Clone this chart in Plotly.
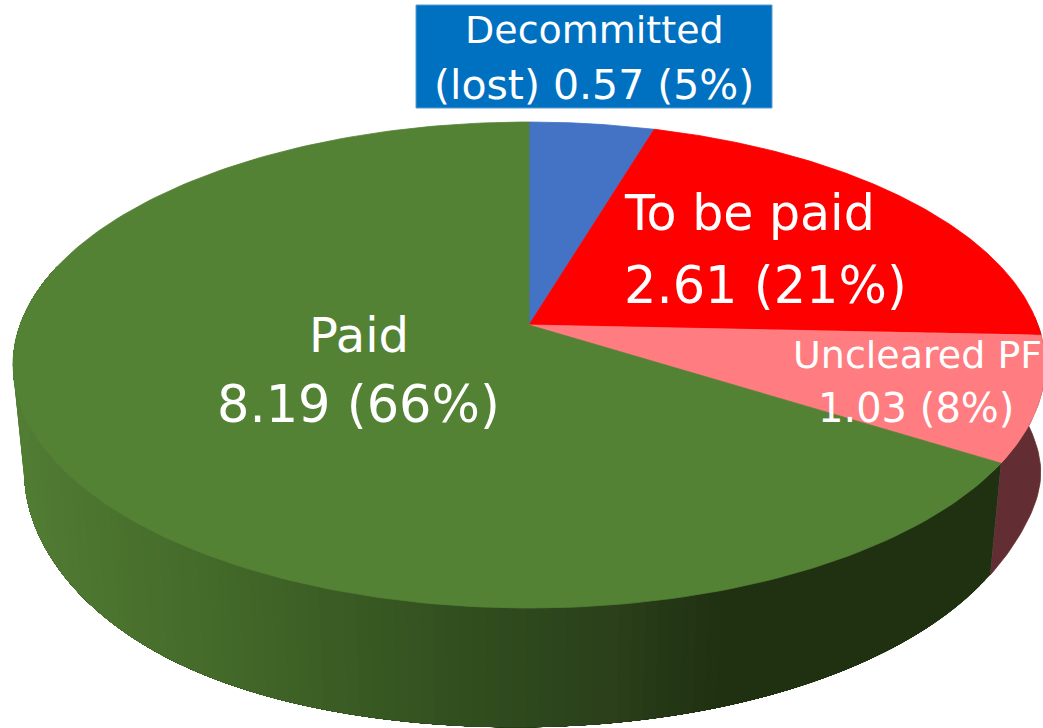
import numpy as np
import plotly.graph_objects as go

# ---- data ----
categories = ["Decommitted (lost)", "To be paid", "Uncleared PF", "Paid"]
values = [0.57, 2.61, 1.03, 8.19]
top_colors = ["#4472C4", "#FF0000", "#FF7C80", "#548235"]

# ---- perspective model of the disc (pixel space of the axes) ----
W, H = 1043, 728
APEX_X, APEX_Y = 529, 325
A, B, K = 509.0, 236.4, -0.1646
DEPTH_Y, DEPTH_W = 107.4, 0.0218


def project(theta, low=False):
    u, v = np.sin(theta), -np.cos(theta)
    w = 1 + K * v + (DEPTH_W if low else 0)
    x = APEX_X + A * u / w
    y = APEX_Y + (B * v + (DEPTH_Y if low else 0)) / w
    if low:  # the lower rim of the reference bulges a little beyond pure perspective
        deg = np.degrees(theta)
        x = x + 7 * np.exp(-((deg - 100) / 12) ** 2)
        y = y + 9 * np.exp(-((deg - 220) / 28) ** 2)
    return x, y


total = sum(values)
edges = np.concatenate([[0], np.cumsum(values)]) / total * 2 * np.pi

fig = go.Figure()


def add_poly(xs, ys, color, lw=0.8):
    fig.add_trace(go.Scatter(x=xs, y=ys, mode="lines", fill="toself", fillcolor=color,
                             line=dict(color=color, width=lw), hoverinfo="skip",
                             showlegend=False))


def paid_side_color(x):
    stops_x = [20, 130, 220, 330, 480, 620, 730, 1043]
    stops = np.array([[82, 125, 52], [74, 114, 46], [68, 106, 42], [60, 94, 37],
                      [49, 78, 31], [43, 64, 27], [32, 49, 18], [32, 49, 18]])
    rgb = [int(np.interp(x, stops_x, stops[:, i])) for i in range(3)]
    return "rgb(%d,%d,%d)" % tuple(rgb)


# side wall: uncleared slice
t = np.linspace(np.radians(88), edges[3], 40)
xt, yt = project(t)
xb, yb = project(t, low=True)
add_poly(np.r_[xt, xb[::-1]], np.r_[yt, yb[::-1]], "#632E33")

# side wall: paid slice, painted as overlapping shaded bands so no seams appear
END = np.radians(285)
band_edges = np.linspace(edges[3], END, 130)
for a0 in band_edges[:-1]:
    t = np.linspace(a0, END, 40)
    xt, yt = project(t)
    xb, yb = project(t, low=True)
    add_poly(np.r_[xt, xb[::-1]], np.r_[yt, yb[::-1]], paid_side_color(xt[0]), lw=0)

# top face: one wedge per slice, drawn from the values
for a0, a1, color in zip(edges[:-1], edges[1:], top_colors):
    t = np.linspace(a0, a1, 200)
    x, y = project(t)
    add_poly(np.r_[APEX_X, x, APEX_X], np.r_[APEX_Y, y, APEX_Y], color)

pct = [round(v / total * 100) for v in values]
FONT = "DejaVu Sans"
lines = [
    ("Decommitted", 594, 30, 38, "center"),
    (f"(lost) {values[0]:.2f} ({pct[0]}%)", 594, 85, 41, "center"),
    ("To be paid", 622, 213, 49, "left"),
    (f"{values[1]:.2f} ({pct[1]}%)", 622, 285, 51, "left"),
    ("Uncleared PF", 917, 355, 38, "center"),
    (f"{values[2]:.2f} ({pct[2]}%)", 916, 408, 40, "center"),
    ("Paid", 359, 335, 48, "center"),
    (f"{values[3]:.2f} ({pct[3]}%)", 358, 404, 51, "center"),
]

fig.add_shape(type="rect", x0=416, x1=772, y0=5, y1=108, xref="x", yref="y",
              fillcolor="#0070C0", line=dict(color="#5B9BD5", width=1), layer="above")

for text, x, y, size, align in lines:
    fig.add_annotation(x=x, y=y, xref="x", yref="y", text=text, showarrow=False,
                       xanchor=align, yanchor="middle",
                       font=dict(family=FONT, size=size, color="white"))

fig.update_layout(
    width=W, height=H, margin=dict(l=0, r=0, t=0, b=0),
    paper_bgcolor="white", plot_bgcolor="white", showlegend=False,
    xaxis=dict(range=[0, W], visible=False, fixedrange=True),
    yaxis=dict(range=[H, 0], visible=False, fixedrange=True),
)
fig.write_html("out.html", config={"displayModeBar": False},
               post_script="document.body.style.margin='0';document.body.style.overflow='hidden';")
